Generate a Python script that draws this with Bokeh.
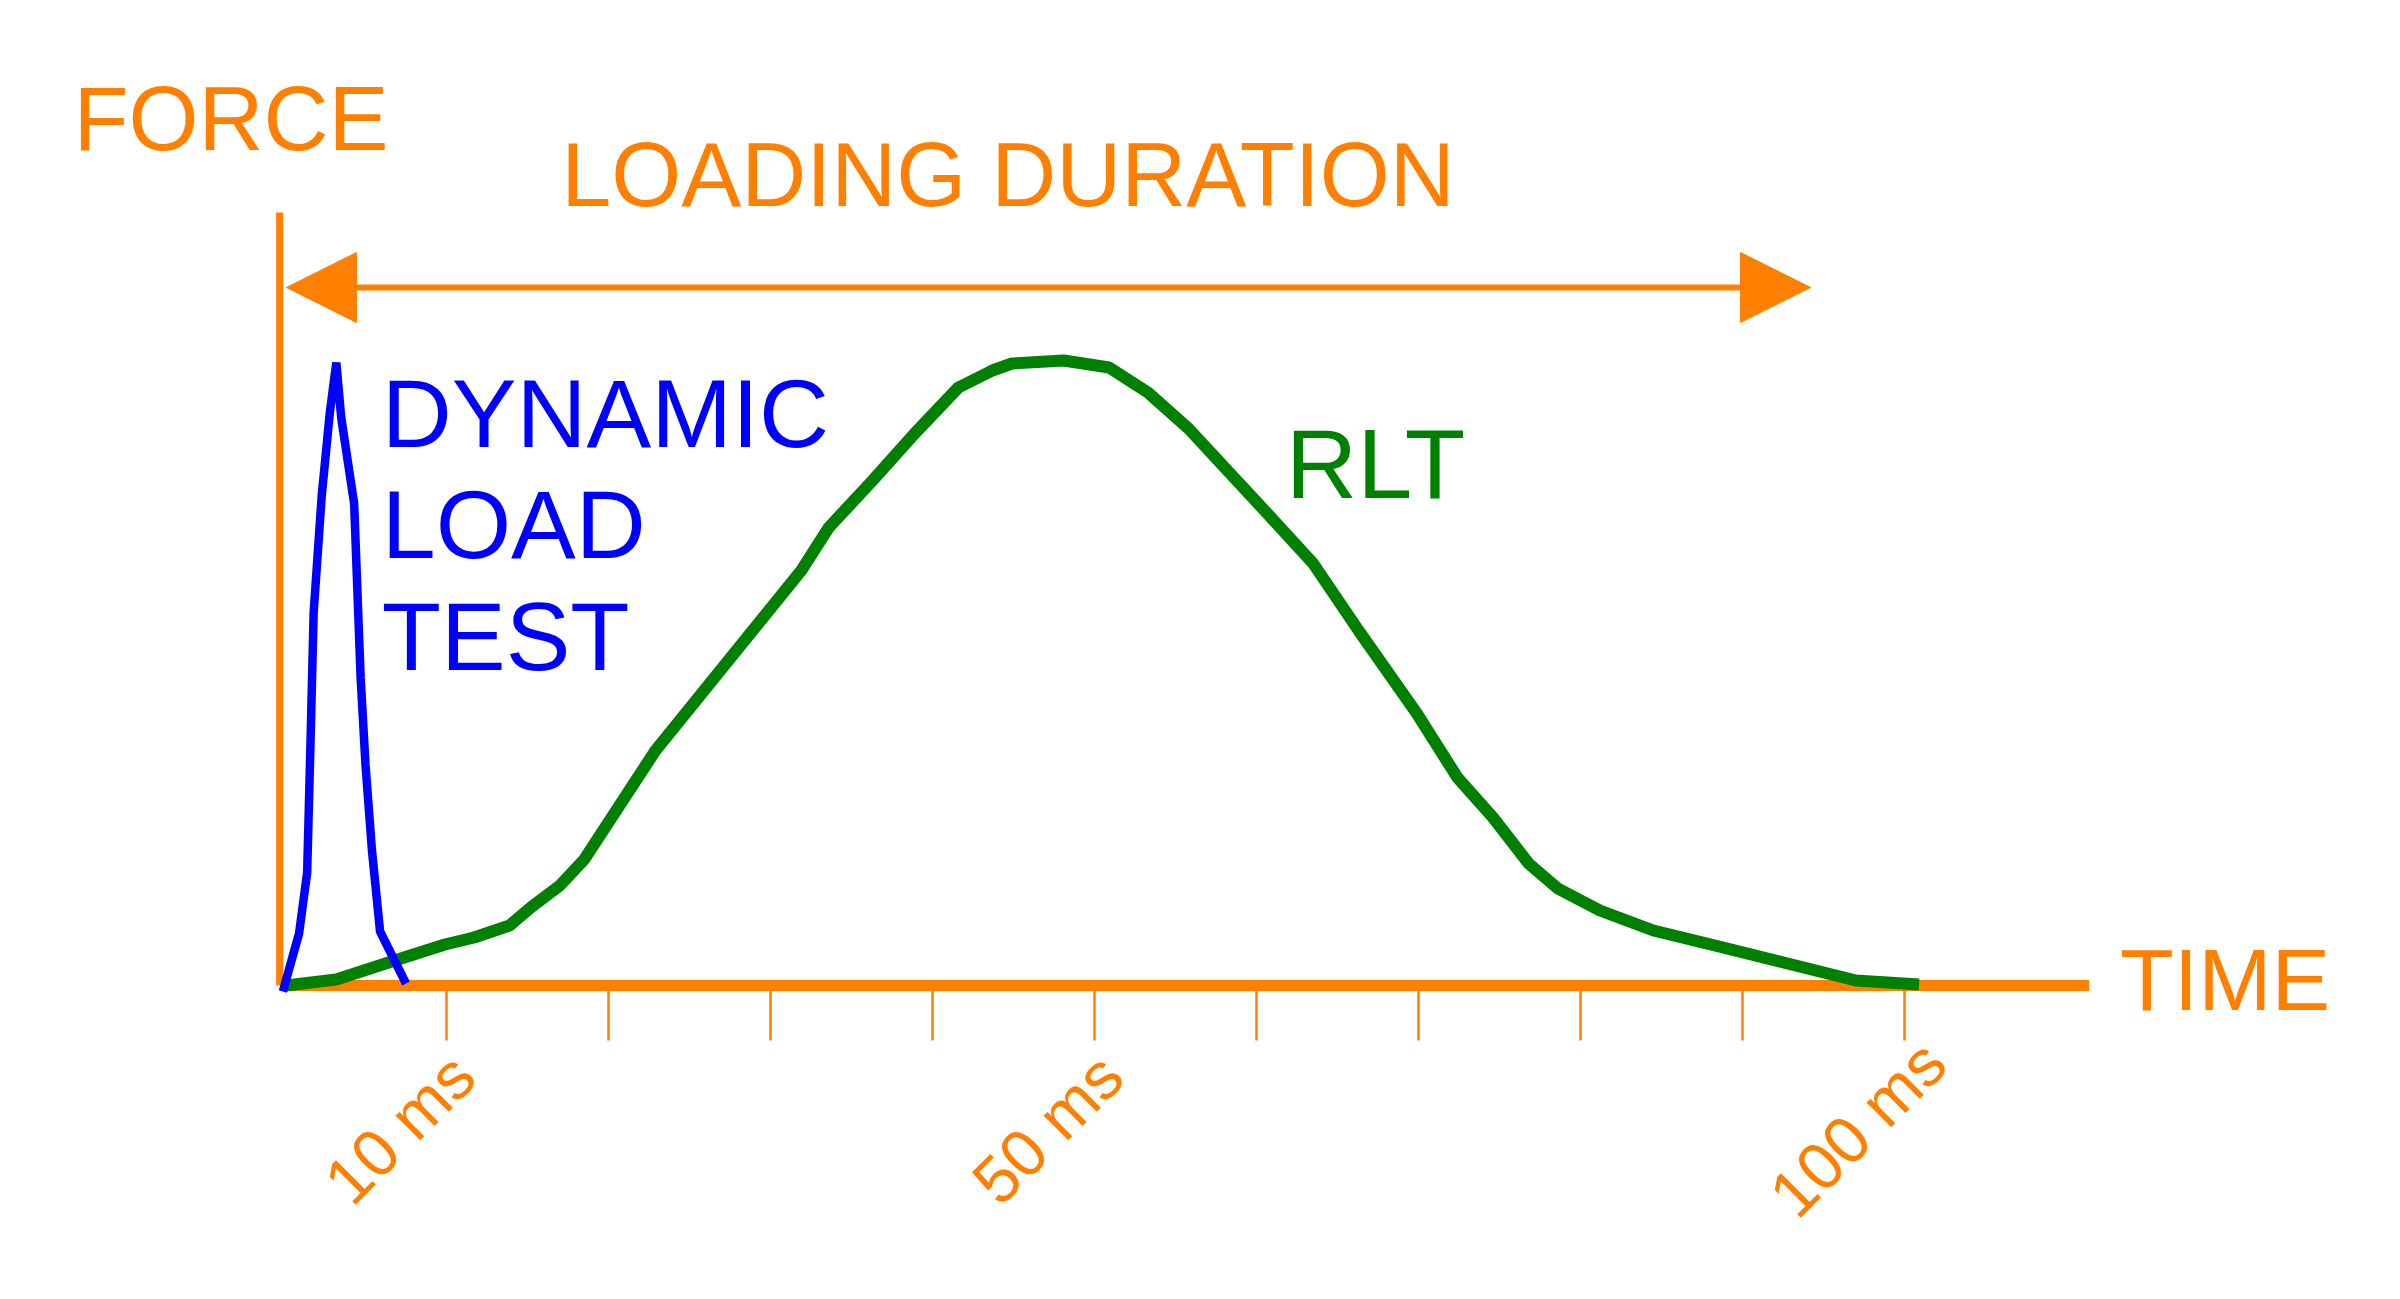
from math import pi

from bokeh.plotting import figure
from bokeh.models import Range1d, Arrow, NormalHead, Label
from bokeh.core.properties import value
from bokeh.embed import file_html
from bokeh.resources import INLINE

ORANGE = "#FF8000"
BLUE = "#0000FF"
GREEN = "#008000"
FONT = "Liberation Sans"

# time in ms, force in arbitrary units
rlt_ms = [0.1, 3.2, 6.8, 9.9, 11.7, 13.9, 15.2, 17.0, 18.5, 22.9, 27.3, 31.9, 33.6,
          36.3, 38.9, 41.6, 43.7, 44.9, 48.1, 50.9, 53.3, 55.8, 60.5, 63.5, 66.3,
          69.9, 72.4, 74.6, 76.8, 78.6, 81.2, 84.5, 88.3, 97.0, 100.9]
rlt_force = [0.0, 0.6, 2.5, 4.1, 4.8, 6.0, 7.8, 10.0, 12.6, 23.5, 32.3, 41.5, 45.8,
             50.5, 55.2, 59.8, 61.5, 62.2, 62.5, 61.8, 59.3, 55.7, 47.5, 42.2, 35.5,
             27.2, 20.8, 16.8, 12.2, 9.7, 7.5, 5.5, 4.0, 0.5, 0.1]

dlt_ms = [-0.1, 0.9, 1.4, 1.6, 1.8, 2.3, 2.8, 3.2, 3.5, 4.3, 4.7, 5.0, 5.4, 5.9, 7.5]
dlt_force = [-0.6, 5.2, 11.3, 23.9, 37.3, 49.0, 57.3, 62.3, 56.8, 48.2, 30.8, 22.1,
             13.5, 5.4, 0.2]

tick_ms = [10, 20, 30, 40, 50, 60, 70, 80, 90, 100]
label_ms = [10, 50, 100]
label_text = ["10 ms", "50 ms", "100 ms"]

duration_start = 0.12
duration_end = 94.2
time_axis_end = 111.4
force_axis_top = 77.3

p = figure(width=2384, height=1283,
           x_range=Range1d(-17.53, 129.63), y_range=Range1d(-29.8, 98.5),
           min_border=0, toolbar_location=None, output_backend="svg")
p.axis.visible = False
p.grid.visible = False
p.outline_line_color = None
p.background_fill_color = "white"

# axes drawn by hand
p.segment(x0=[-0.3], y0=[0], x1=[-0.3], y1=[force_axis_top],
          line_color=ORANGE, line_width=7)
p.segment(x0=[-0.25], y0=[0], x1=[time_axis_end], y1=[0],
          line_color=ORANGE, line_width=11)
p.segment(x0=tick_ms, y0=[0] * len(tick_ms), x1=tick_ms, y1=[-5.5] * len(tick_ms),
          line_color=ORANGE, line_width=2.5)

# curves
p.line(rlt_ms, rlt_force, line_color=GREEN, line_width=12)
p.line(dlt_ms, dlt_force, line_color=BLUE, line_width=8.5)

# loading duration arrow
p.add_layout(Arrow(
    x_start=duration_start, y_start=69.8, x_end=duration_end, y_end=69.8,
    line_color=ORANGE, line_width=6,
    start=NormalHead(size=70, fill_color=ORANGE, line_color=ORANGE, line_width=1),
    end=NormalHead(size=70, fill_color=ORANGE, line_color=ORANGE, line_width=1)))

# tick labels, rotated
p.text(x=label_ms, y=[0] * len(label_ms), text=label_text, angle=pi / 4,
       x_offset=-47, y_offset=143, text_align="center", text_baseline="middle",
       text_color=ORANGE, text_font_size="66px", text_font=value(FONT))


def label(x, y, txt, color, size, align="left"):
    p.add_layout(Label(x=x, y=y, text=txt, text_color=color,
                       text_font=FONT, text_font_size=size,
                       text_align=align, text_baseline="alphabetic"))


label(-3.3, 86.7, "FORCE", ORANGE, "90px", "center")
label(44.66, 81.1, "LOADING DURATION", ORANGE, "90px", "center")
label(6.0, 57.2, "DYNAMIC", BLUE, "97px")
label(6.0, 46.1, "LOAD", BLUE, "97px")
label(6.0, 34.9, "TEST", BLUE, "97px")
label(61.8, 52.2, "RLT", GREEN, "99px")
label(113.3, 0.6, "TIME", ORANGE, "88px")

open("out.html", "w").write(file_html(p, INLINE))
